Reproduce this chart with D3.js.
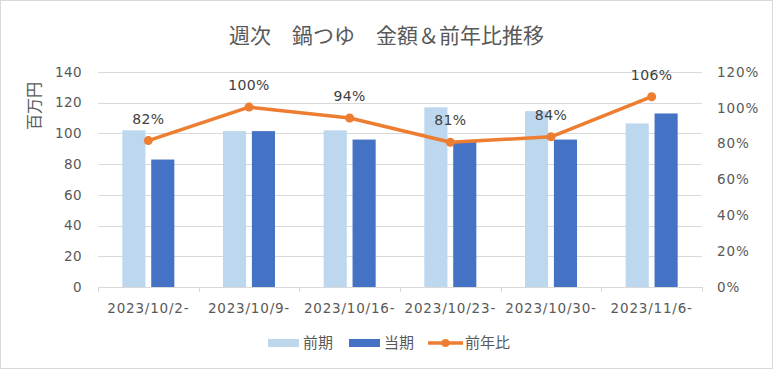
<!DOCTYPE html>
<html>
<head>
<meta charset="utf-8">
<script src="https://cdn.jsdelivr.net/npm/d3@7"></script>
<style>
  body { margin: 0; background: #fff; }
  svg text { font-family: "DejaVu Sans", Verdana, sans-serif; }
  .jp { font-family: "Noto Sans CJK JP", "Noto Sans", sans-serif !important; }
</style>
</head>
<body>
<script>
// data
var weeks = ["2023/10/2-", "2023/10/9-", "2023/10/16-", "2023/10/23-", "2023/10/30-", "2023/11/6-"];
var prevYear = [102, 101.5, 102, 117, 114.5, 106.5];   // 前期
var thisYear = [83, 101.5, 96, 94.5, 96, 113];          // 当期
var yoy = [0.817, 1.004, 0.943, 0.808, 0.838, 1.062];   // 前年比
var leftTicks = [0, 20, 40, 60, 80, 100, 120, 140];
var rightTicks = [0, 0.2, 0.4, 0.6, 0.8, 1.0, 1.2];

var W = 773, H = 369;
var margin = {top: 72, right: 71, bottom: 82, left: 98};
var width = W - margin.left - margin.right,
    height = H - margin.top - margin.bottom;

var svg = d3.select("body").append("svg")
    .attr("width", W)
    .attr("height", H);

// chart border
svg.append("rect")
    .attr("x", 0.5).attr("y", 0.5)
    .attr("width", W - 1).attr("height", H - 1)
    .attr("fill", "#fff")
    .attr("stroke", "#d9d9d9");

svg.append("text")
    .attr("class", "jp")
    .attr("x", W / 2)
    .attr("y", 43)
    .attr("text-anchor", "middle")
    .attr("font-size", 21)
    .attr("fill", "#595959")
    .text("週次　鍋つゆ　金額＆前年比推移");

var g = svg.append("g")
    .attr("transform", "translate(" + margin.left + "," + margin.top + ")");

var x = d3.scaleBand().domain(weeks).range([0, width]).padding(0);
var x1 = d3.scaleBand().domain(["prev", "curr"]).range([-26, 26]).paddingInner(0.2);
var y = d3.scaleLinear().domain([0, 140]).range([height, 0]);
var y2 = d3.scaleLinear().domain([0, 1.2]).range([height, 0]);

// gridlines
g.append("g")
  .selectAll("line")
  .data(leftTicks)
  .enter().append("line")
    .attr("x1", 0).attr("x2", width)
    .attr("y1", function(d) { return Math.round(y(d)) + 0.5; })
    .attr("y2", function(d) { return Math.round(y(d)) + 0.5; })
    .attr("stroke", "#d9d9d9")
    .attr("stroke-width", 1);

// category ticks on baseline
g.append("g")
  .selectAll("line")
  .data(d3.range(weeks.length + 1))
  .enter().append("line")
    .attr("x1", function(i) { return Math.round(i * x.step()) + 0.5; })
    .attr("x2", function(i) { return Math.round(i * x.step()) + 0.5; })
    .attr("y1", height).attr("y2", height + 5)
    .attr("stroke", "#d9d9d9");

// left axis labels
g.append("g")
  .selectAll("text")
  .data(leftTicks)
  .enter().append("text")
    .attr("x", -16)
    .attr("y", function(d) { return y(d); })
    .attr("dy", "0.35em")
    .attr("text-anchor", "end")
    .attr("font-size", 13.5)
    .attr("letter-spacing", 0.4)
    .attr("fill", "#595959")
    .text(function(d) { return d; });

// right axis labels
g.append("g")
  .selectAll("text")
  .data(rightTicks)
  .enter().append("text")
    .attr("x", width + 15)
    .attr("y", function(d) { return y2(d); })
    .attr("dy", "0.35em")
    .attr("text-anchor", "start")
    .attr("font-size", 13.5)
    .attr("letter-spacing", 0.9)
    .attr("fill", "#595959")
    .text(function(d) { return d3.format(".0%")(d); });

// x labels
g.append("g")
  .selectAll("text")
  .data(weeks)
  .enter().append("text")
    .attr("x", function(d) { return x(d) + x.bandwidth() / 2; })
    .attr("y", height + 21)
    .attr("dy", "0.35em")
    .attr("text-anchor", "middle")
    .attr("font-size", 13.5)
    .attr("letter-spacing", 0.8)
    .attr("fill", "#595959")
    .text(function(d) { return d; });

// y axis title
svg.append("text")
    .attr("class", "jp")
    .attr("transform", "translate(40,106) rotate(-90)")
    .attr("text-anchor", "middle")
    .attr("font-size", 16)
    .attr("fill", "#595959")
    .text("百万円");

// bars
var groups = g.selectAll(".week")
    .data(weeks)
  .enter().append("g")
    .attr("class", "week")
    .attr("transform", function(d) { return "translate(" + (x(d) + x.bandwidth() / 2) + ",0)"; });

groups.append("rect")
    .attr("x", x1("prev"))
    .attr("width", x1.bandwidth())
    .attr("y", function(d, i) { return y(prevYear[i]); })
    .attr("height", function(d, i) { return height - y(prevYear[i]); })
    .attr("fill", "#bdd7ee");

groups.append("rect")
    .attr("x", x1("curr"))
    .attr("width", x1.bandwidth())
    .attr("y", function(d, i) { return y(thisYear[i]); })
    .attr("height", function(d, i) { return height - y(thisYear[i]); })
    .attr("fill", "#4472c4");

// 前年比 line
var cx = function(d, i) { return x(weeks[i]) + x.bandwidth() / 2; };
var line = d3.line()
    .x(cx)
    .y(function(d) { return y2(d); });

g.append("path")
    .datum(yoy)
    .attr("d", line)
    .attr("fill", "none")
    .attr("stroke", "#ed7d31")
    .attr("stroke-width", 3.5)
    .attr("stroke-linejoin", "round")
    .attr("stroke-linecap", "round");

g.append("g")
  .selectAll("circle")
  .data(yoy)
  .enter().append("circle")
    .attr("cx", cx)
    .attr("cy", function(d) { return y2(d); })
    .attr("r", 4.5)
    .attr("fill", "#ed7d31");

g.append("g")
  .selectAll("text")
  .data(yoy)
  .enter().append("text")
    .attr("x", cx)
    .attr("y", function(d) { return y2(d) - 22; })
    .attr("dy", "0.35em")
    .attr("text-anchor", "middle")
    .attr("font-size", 14)
    .attr("letter-spacing", 0.4)
    .attr("fill", "#404040")
    .text(function(d) { return d3.format(".0%")(d); });

// legend
var legend = svg.append("g").attr("transform", "translate(0,343)");
legend.append("rect").attr("x", 268).attr("y", -4).attr("width", 31).attr("height", 8).attr("fill", "#bdd7ee");
legend.append("text").attr("class", "jp").attr("x", 303).attr("y", 0).attr("dy", "0.35em")
    .attr("font-size", 15).attr("fill", "#595959").text("前期");
legend.append("rect").attr("x", 349).attr("y", -4).attr("width", 31).attr("height", 8).attr("fill", "#4472c4");
legend.append("text").attr("class", "jp").attr("x", 384).attr("y", 0).attr("dy", "0.35em")
    .attr("font-size", 15).attr("fill", "#595959").text("当期");
legend.append("line").attr("x1", 428).attr("x2", 463).attr("y1", 0).attr("y2", 0)
    .attr("stroke", "#ed7d31").attr("stroke-width", 3.5);
legend.append("circle").attr("cx", 445.5).attr("cy", 0).attr("r", 4).attr("fill", "#ed7d31");
legend.append("text").attr("class", "jp").attr("x", 465).attr("y", 0).attr("dy", "0.35em")
    .attr("font-size", 15).attr("fill", "#595959").text("前年比");
</script>
</body>
</html>
